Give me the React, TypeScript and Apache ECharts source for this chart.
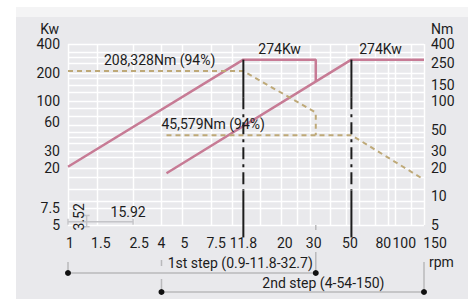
import React, { useEffect, useRef } from "react";
import * as echarts from "echarts";

const rpmLabels = [1, 1.5, 2.5, 4, 5, 7.5, 11.8, 20, 30, 50, 80, 100, 150];
const rpmGridValues = [1, 1.5, 2.5, 3.7, 5, 7.5, 10, 15, 20, 25, 30, 40, 50, 60, 75, 90, 100, 125, 150];
const kwLabels = [5, 7.5, 20, 30, 60, 100, 200, 400];
const nmLabels = [5, 10, 20, 30, 50, 100, 150, 250, 400];
const levelGridValues = [5, 7.5, 9, 12, 16, 20, 26, 30, 36, 42, 48, 56, 70, 85, 100, 125, 150, 175, 200, 250, 290, 330, 400];

const power1st = [[1, 20.5], [11.8, 274], [32.7, 274], [32.7, 161]];
const power2nd = [[4, 17.5], [54, 274], [150, 274]];
const torque1st = [[1, 208], [11.8, 208], [32.7, 76], [32.7, 44]];
const torque2nd = [[4, 44], [54, 44], [150, 15]];
const kneeRpm = [11.8, 54];
const kneeTop = 274;
const kneeDashFrom = 110;
const kneeDashTo = 11.5;
const kneeBottom = 3.7;
const steps = [
  { name: "1st step (0.9-11.8-32.7)", from: 1, to: 32.7 },
  { name: "2nd step (4-54-150)", from: 4, to: 150 },
];
const peakPowerText = "274Kw";
const torque1Text = "208,328Nm (94%)";
const torque2Text = "45,579Nm (94%)";
const dimH = { text: "15.92", from: 1, to: 2.5, level: 5.4 };
const dimV = { text: "3.52", rpm: 1.3, from: 6.3, to: 4.8 };

const FONT = "Roboto, 'Noto Sans', sans-serif";
const PINK = "#c77b95";
const GOLD = "#bea978";
const INK = "#1c1c1c";
const GREY = "#b9b9bb";
const PANEL = "#e9e9ec";
const PANEL_TOP = "#f4f4f5";

// horizontal nudges (px) of the rpm tick labels, as in the reference layout
const labelNudge: Record<string, number> = {
  "1": 2, "1.5": 4, "2.5": 6, "4": -5, "5": 2, "7.5": 5, "11.8": 0,
  "20": 4, "30": 4, "50": 4, "80": 4, "100": 9, "150": 11,
};

const fmt = (v: number) => String(+Number(v).toPrecision(3));
const crisp = (v: number) => Math.round(v) + 0.5;

export default function App() {
  const ref = useRef<HTMLDivElement>(null);
  useEffect(() => {
    if (!ref.current) return;
    const chart = echarts.init(ref.current, null, { renderer: "svg" });
    const kneeSeries: any[] = [];
    kneeRpm.forEach((k) => {
      kneeSeries.push(
        { type: "line", data: [[k, kneeTop], [k, kneeDashFrom]], lineStyle: { color: INK, width: 2, type: "solid" } },
        { type: "line", data: [[k, kneeDashFrom], [k, kneeDashTo]], lineStyle: { color: INK, width: 2, type: [12, 5, 3, 5] } },
        { type: "line", data: [[k, kneeDashTo], [k, kneeBottom]], lineStyle: { color: INK, width: 2, type: "solid" } }
      );
    });
    const common = { symbol: "none", silent: true, clip: false, z: 3 };
    const rich: any = {};
    Object.keys(labelNudge).forEach((k, i) => {
      const n = labelNudge[k];
      rich["n" + i] = {
        fontSize: 14,
        fontFamily: FONT,
        color: INK,
        padding: n >= 0 ? [0, 0, 0, 2 * n] : [0, -2 * n, 0, 0],
      };
    });
    const xFmt = (v: number) => {
      const s = fmt(v);
      const i = Object.keys(labelNudge).indexOf(s);
      return i >= 0 ? `{n${i}|${s}}` : s;
    };
    const yLabel = { formatter: fmt, color: INK, fontSize: 14, lineHeight: 14, fontFamily: FONT };
    const option: any = {
      animation: false,
      backgroundColor: "#ffffff",
      grid: { left: 68, right: 49, top: 44, bottom: 81 },
      xAxis: {
        type: "log",
        logBase: 10,
        min: 1,
        max: 150,
        axisLine: { show: false },
        axisTick: { show: false },
        splitLine: { show: false },
        axisLabel: {
          customValues: rpmLabels,
          formatter: xFmt,
          rich,
          margin: 11,
          color: INK,
          fontSize: 14,
          fontFamily: FONT,
        },
      },
      yAxis: [
        {
          type: "log",
          logBase: 10,
          min: 5,
          max: 400,
          position: "left",
          axisLine: { show: false },
          axisTick: { show: false },
          splitLine: { show: false },
          axisLabel: { ...yLabel, customValues: kwLabels, margin: 8 },
        },
        {
          type: "log",
          logBase: 10,
          min: 5,
          max: 400,
          position: "right",
          axisLine: { show: false },
          axisTick: { show: false },
          splitLine: { show: false },
          axisLabel: { ...yLabel, customValues: nmLabels, margin: 7 },
        },
      ],
      series: [
        ...kneeSeries.map((s) => ({ ...s, ...common, z: 4 })),
        { type: "line", name: "Power 1st", data: power1st, ...common, lineStyle: { color: PINK, width: 2.5, type: "solid" } },
        { type: "line", name: "Power 2nd", data: power2nd, ...common, lineStyle: { color: PINK, width: 2.5, type: "solid" } },
        { type: "line", name: "Torque 1st", yAxisIndex: 1, data: torque1st, ...common, lineStyle: { color: GOLD, width: 2, type: [5, 4] } },
        { type: "line", name: "Torque 2nd", yAxisIndex: 1, data: torque2nd, ...common, lineStyle: { color: GOLD, width: 2, type: [5, 4] } },
      ],
    };
    chart.setOption(option);

    const px = (v: number) => chart.convertToPixel({ xAxisIndex: 0 }, v) as number;
    const py = (v: number) => chart.convertToPixel({ yAxisIndex: 0 }, v) as number;
    const gLeft = px(1);
    const gRight = px(150);
    const gTop = py(400);
    const gBottom = py(5);

    const txt = (text: string, x: number, y: number, align: string, extra: any = {}) => ({
      type: "text",
      x,
      y,
      silent: true,
      z: 10,
      ...extra,
      style: { text, fill: INK, fontSize: 14, lineHeight: 14, fontFamily: FONT, align, verticalAlign: "middle" },
    });
    const seg = (x1: number, y1: number, x2: number, y2: number, stroke = GREY, w = 1.5, z = 10) => ({
      type: "line",
      silent: true,
      z,
      shape: { x1, y1, x2, y2 },
      style: { stroke, lineWidth: w },
    });
    const dot = (cx: number, cy: number) => ({
      type: "circle",
      silent: true,
      z: 11,
      shape: { cx, cy, r: 3 },
      style: { fill: "#111111" },
    });

    const g: any[] = [];
    // panel background
    g.push({ type: "rect", silent: true, z: -5, shape: { x: 16, y: 7, width: 452, height: 292 }, style: { fill: PANEL } });
    g.push({ type: "rect", silent: true, z: -4, shape: { x: 16, y: 7, width: 452, height: 10 }, style: { fill: PANEL_TOP } });
    // white grid lines under the series
    rpmGridValues.forEach((v) =>
      g.push(seg(crisp(px(v)), Math.round(gTop), crisp(px(v)), Math.round(gBottom), "#ffffff", 1.5, -1))
    );
    levelGridValues.forEach((v) =>
      g.push(seg(Math.round(gLeft), crisp(py(v)), Math.round(gRight), crisp(py(v)), "#ffffff", 1.5, -1))
    );

    g.push(txt("Kw", gLeft - 9, gTop - 15, "right"));
    g.push(txt("Nm", gRight + 7, gTop - 15, "left"));
    g.push(txt(peakPowerText, (px(11.8) + px(32.7)) / 2, py(274) - 11, "center"));
    g.push(txt(peakPowerText, px(54) + 29, py(274) - 11, "center"));
    g.push(txt(torque1Text, px(11.8) - 28, py(208) - 11, "right"));
    g.push(txt(torque2Text, px(4) - 5, py(44) - 11, "left"));

    // step brackets
    const y1 = gBottom + 48;
    const y2 = gBottom + 67;
    const a1 = px(steps[0].from), b1 = px(steps[0].to);
    const a2 = px(steps[1].from) - 5, b2 = px(steps[1].to);
    g.push(seg(a1, y1, b1, y1));
    g.push(seg(a1, y1 - 11, a1, y1));
    g.push(seg(b1, gBottom, b1, gBottom + 5));
    g.push(seg(b1, y1 - 21, b1, y1));
    g.push(dot(a1, y1), dot(b1, y1));
    g.push(txt(steps[0].name, b1 - 3, y1 - 10, "right"));
    g.push(seg(a2, y2, b2, y2));
    g.push(seg(a2, y1 - 13, a2, y1 - 7));
    g.push(seg(a2, y1 + 6, a2, y2));
    g.push(seg(b2, y1 - 11, b2, y2));
    g.push(dot(a2, y2), dot(b2, y2));
    g.push(txt(steps[1].name, px(54) - 28, y2 - 9, "center"));
    g.push(txt("rpm", gRight + 5, y1 - 11, "left"));

    // dimension marks
    const dy = py(dimH.level);
    const dx1 = px(dimH.from), dx2 = px(dimH.to);
    const DG = "#c4c4c8";
    g.push(seg(dx1, dy, dx2, dy, DG, 1.5));
    g.push(seg(dx1, dy - 3, dx1, dy + 3, DG, 1.5));
    g.push(seg(dx2, dy - 3, dx2, dy + 3, DG, 1.5));
    const vx = px(dimV.rpm);
    const vy1 = py(dimV.from), vy2 = py(dimV.to);
    g.push(seg(vx, vy1, vx, vy2, DG, 1.5));
    g.push(seg(vx - 3, vy1, vx + 3, vy1, DG, 1.5));
    g.push(seg(vx - 3, vy2, vx + 3, vy2, DG, 1.5));
    g.push(txt(dimH.text, dx2 - 5, dy - 10, "center"));
    g.push(txt(dimV.text, vx - 8, dy - 5, "center", { rotation: Math.PI / 2 }));

    chart.setOption({ graphic: g });
    return () => chart.dispose();
  }, []);

  return (
    <div style={{ position: "absolute", left: 0, top: 0, width: 473, height: 306, background: "#ffffff" }}>
      <div ref={ref} style={{ position: "absolute", left: 0, top: 0, width: 473, height: 306 }} />
    </div>
  );
}
